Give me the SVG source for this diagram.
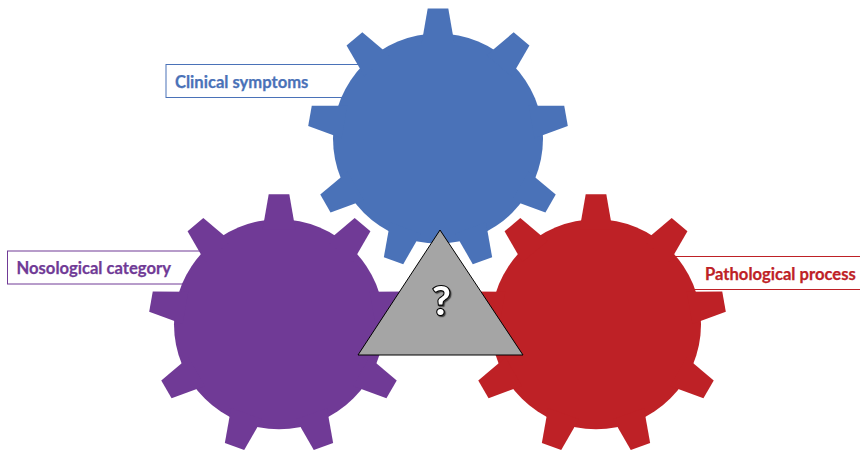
<svg xmlns="http://www.w3.org/2000/svg" width="860" height="453" viewBox="0 0 860 453">
  <style>
    .label { font-family: "Lato", "Carlito", "Liberation Sans", sans-serif; font-weight: 700; font-size: 16.6px; stroke-width: 0.25; }
    .box { fill: #ffffff; stroke-width: 1; }
    .blue { fill: #4A72B8; }
    .purple { fill: #703A96; }
    .red { fill: #BE2126; }
  </style>
  <defs>
    <filter id="shadow" x="-50%" y="-50%" width="200%" height="200%">
      <feDropShadow dx="1.2" dy="1.2" stdDeviation="0.6" flood-color="#000000" flood-opacity="0.6"/>
    </filter>
    <path id="tooth" d="M-16.4,-95 L-10.3,-130 L10.3,-130 L16.4,-95 Z"/>
    <g id="gear">
      <circle r="105"/>
      <use href="#tooth"/>
      <use href="#tooth" transform="rotate(40)"/>
      <use href="#tooth" transform="rotate(80)"/>
      <use href="#tooth" transform="rotate(120)"/>
      <use href="#tooth" transform="rotate(160)"/>
      <use href="#tooth" transform="rotate(200)"/>
      <use href="#tooth" transform="rotate(240)"/>
      <use href="#tooth" transform="rotate(280)"/>
      <use href="#tooth" transform="rotate(320)"/>
    </g>
  </defs>
  <rect width="860" height="453" fill="#ffffff"/>
  <g id="label-clinical">
    <rect class="box" x="166" y="64.5" width="220" height="33" stroke="#4A72B8"/>
    <text class="label" x="175" y="88" fill="#4A72B8" stroke="#4A72B8">Clinical symptoms</text>
  </g>
  <g id="label-nosological">
    <rect class="box" x="7.5" y="251" width="220" height="33" stroke="#703A96"/>
    <text class="label" x="16.5" y="274" fill="#703A96" stroke="#703A96">Nosological category</text>
  </g>
  <g id="label-pathological">
    <rect class="box" x="650" y="256.5" width="230" height="33" stroke="#BE2126"/>
    <text class="label" x="705" y="280" fill="#BE2126" stroke="#BE2126">Pathological process</text>
  </g>
  <g id="gear-blue" class="blue"><use href="#gear" transform="translate(438,138.5)"/></g>
  <g id="gear-purple" class="purple"><use href="#gear" transform="translate(279,324.3)"/></g>
  <g id="gear-red" class="red"><use href="#gear" transform="translate(596,324.3)"/></g>
  <g id="center-triangle">
    <polygon points="440,230 523,355 358,355" fill="#A5A5A5" stroke="#000000" stroke-width="1"/>
    <text x="441.5" y="315" text-anchor="middle" font-family="Lato, 'Liberation Sans', sans-serif" font-weight="700" font-size="41" fill="#ffffff" stroke="#000000" stroke-width="2.2" paint-order="stroke" filter="url(#shadow)">?</text>
  </g>
  <g id="connectors"/>
</svg>
